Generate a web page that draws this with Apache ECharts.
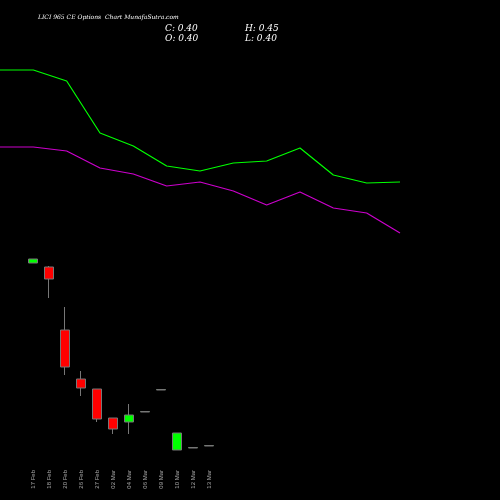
<!DOCTYPE html><html><head><meta charset="utf-8"><script src="https://cdn.jsdelivr.net/npm/echarts@6/dist/echarts.min.js"></script></head><body style="margin:0;background:#000"><div id="c" style="width:500px;height:500px"></div><script>
const dates=['17 Feb','18 Feb','20 Feb','26 Feb','27 Feb','02 Mar','04 Mar','06 Mar','09 Mar','10 Mar','12 Mar','13 Mar'];
// [open, close, low, high] in chart units
const candles=[[237,241,237,241],[233,221,202,234],[170,133,125,193],[121,112,104,129],[111,81,78,111],[82,71,66,82],[78,85,66,96],[88,88.5,88,88.5],[110,110.5,110,110.5],[50,67,50,67],[52,52.5,52,52.5],[54,54.5,54,55]];
const maGreen=[430,430,419,367,354,334,329,337,339,352,325,317,318];
const maPurple=[353,353,349,332,326,314,318,309,295,308,292,287,267];
const ch=echarts.init(document.getElementById('c'));
const up='#00ff00',dn='#ff0000';
ch.setOption({backgroundColor:'#000',animation:false,
title:[{text:'LICI 965 CE Options  Chart MunafaSutra.com',left:33,top:9,textStyle:{color:'#fff',fontSize:6,fontStyle:'italic',fontWeight:'normal',fontFamily:'DejaVu Serif'}},
{text:'C: 0.40\nO: 0.40',left:160,top:19,textStyle:{color:'#fff',fontSize:9,fontStyle:'italic',fontWeight:'normal',fontFamily:'DejaVu Serif',lineHeight:10}},
{text:'H: 0.45\nL: 0.40',left:240,top:19,textStyle:{color:'#fff',fontSize:9,fontStyle:'italic',fontWeight:'normal',fontFamily:'DejaVu Serif',lineHeight:10}}],
grid:[{left:25,width:192,top:0,bottom:40},{left:0,width:400,top:0,bottom:40}],
xAxis:[{type:'category',gridIndex:0,data:dates,axisLine:{show:false},axisTick:{show:false},axisLabel:{rotate:90,color:'#aaa',fontSize:6,margin:10}},
{type:'category',gridIndex:1,boundaryGap:false,data:maGreen.map((_,i)=>i),show:false}],
yAxis:[{gridIndex:0,min:40,max:500,show:false},{gridIndex:1,min:40,max:500,show:false}],
series:[{type:'candlestick',data:candles,barWidth:9,itemStyle:{color:up,color0:dn,borderColor:'#777',borderColor0:'#777',borderWidth:1}},
{type:'line',xAxisIndex:1,yAxisIndex:1,data:maGreen,symbol:'none',lineStyle:{color:'#00ff00',width:1.2}},
{type:'line',xAxisIndex:1,yAxisIndex:1,data:maPurple,symbol:'none',lineStyle:{color:'#cc00cc',width:1.2}}]});
</script></body></html>
